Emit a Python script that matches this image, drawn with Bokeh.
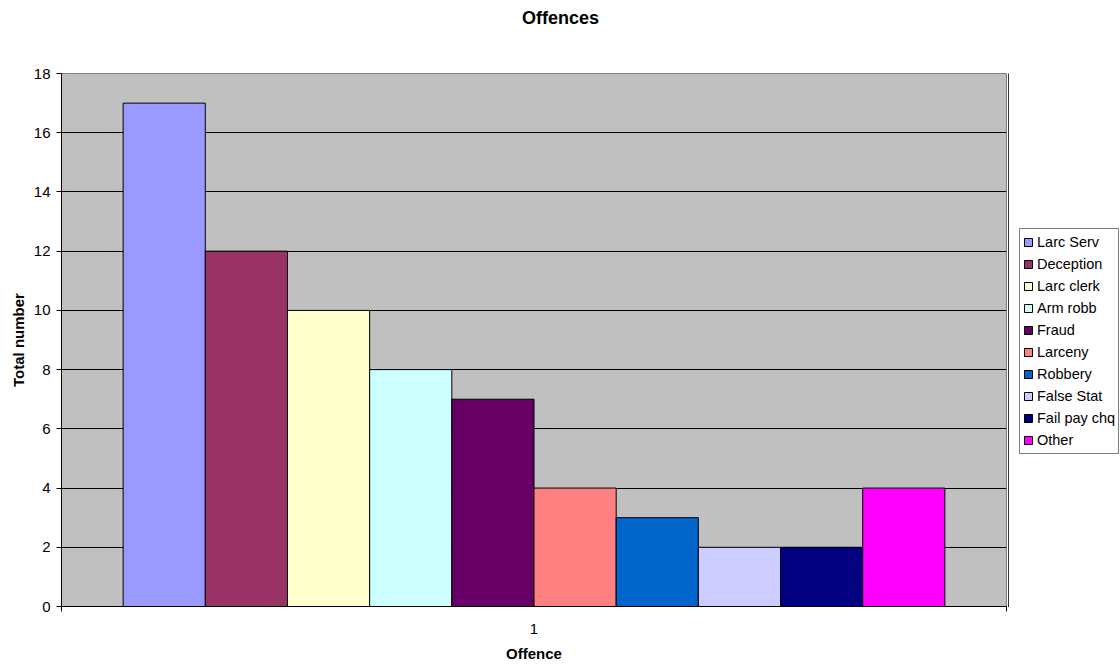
from bokeh.plotting import figure
from bokeh.layouts import row
from bokeh.models import (ColumnDataSource, FixedTicker, Legend, LegendItem,
                          Range1d, LinearAxis)
from bokeh.embed import file_html
from bokeh.resources import INLINE

# ---- data ----
offences = ["Larc Serv", "Deception", "Larc clerk", "Arm robb", "Fraud",
            "Larceny", "Robbery", "False Stat", "Fail pay chq", "Other"]
counts = [17, 12, 10, 8, 7, 4, 3, 2, 2, 4]
colors = ["#9999FF", "#993366", "#FFFFCC", "#CCFFFF", "#660066",
          "#FF8080", "#0066CC", "#CCCCFF", "#000080", "#FF00FF"]
category_label = "1"
chart_title = "Offences"
y_ticks = list(range(0, 19, 2))

# Excel-style clustered layout: gap width 150% of a bar
n = len(offences)
bar_w = 1.0 / (n + 1.5)
xs = [0.5 + (i - (n - 1) / 2) * bar_w for i in range(n)]

src = ColumnDataSource(dict(x=xs, top=counts, color=colors, name=offences))

FONT = "Liberation Sans"
MAIN_W = 1008
LEFT = 61
FRAME_W = MAIN_W - LEFT - 2

p = figure(width=MAIN_W, height=664, output_backend="svg",
           toolbar_location=None,
           x_range=Range1d(0, 1), y_range=Range1d(0, 18),
           min_border_left=LEFT, min_border_right=2, min_border_top=73,
           min_border_bottom=56)
p.background_fill_color = "#C0C0C0"
p.border_fill_color = "white"
p.outline_line_color = "#808080"
p.outline_line_width = 1

r = p.vbar(x="x", top="top", width=bar_w, source=src, fill_color="color",
           line_color="black", line_width=1)

# axes
p.xaxis.ticker = FixedTicker(ticks=[0.5], minor_ticks=[0, 1])
p.xaxis.major_label_overrides = {0.5: category_label}
p.xaxis.major_tick_out = 0
p.xaxis.major_tick_in = 0
p.xaxis.minor_tick_out = 5
p.xaxis.minor_tick_in = 0
p.xaxis.minor_tick_line_color = "black"
p.xaxis.axis_label = "Offence"
p.xaxis.major_label_standoff = 12
p.xaxis.axis_label_standoff = 8

p.yaxis.ticker = FixedTicker(ticks=y_ticks)
p.yaxis.minor_tick_line_color = None
p.yaxis.major_tick_out = 5
p.yaxis.major_tick_in = 0
p.yaxis.axis_label = "Total number"
p.yaxis.major_label_standoff = 6
p.yaxis.axis_label_standoff = 4

for ax in (p.xaxis[0], p.yaxis[0]):
    ax.axis_line_color = "black"
    ax.major_tick_line_color = "black"
    ax.major_label_text_font = FONT
    ax.major_label_text_font_size = "15px"
    ax.major_label_text_color = "black"
    ax.axis_label_text_font = FONT
    ax.axis_label_text_font_size = "15px"
    ax.axis_label_text_font_style = "bold"
    ax.axis_label_text_color = "black"

p.xgrid.grid_line_color = None
p.ygrid.grid_line_color = "black"
p.ygrid.grid_line_width = 1

# chart title: centred over the whole picture (x=560px), drawn by an
# otherwise invisible axis above the frame
title_x = (560 - LEFT) / FRAME_W
top_axis = LinearAxis(ticker=FixedTicker(ticks=[title_x], minor_ticks=[]),
                      major_label_overrides={title_x: chart_title},
                      axis_line_color=None, major_tick_line_color=None,
                      minor_tick_line_color=None, major_tick_out=0,
                      major_tick_in=0, major_label_standoff=46,
                      major_label_text_font=FONT,
                      major_label_text_font_size="18px",
                      major_label_text_font_style="bold",
                      major_label_text_color="black")
p.add_layout(top_axis, "above")

# legend panel: a small companion figure to the right of the chart
lp = figure(width=1120 - MAIN_W, height=664, output_backend="svg",
            toolbar_location=None, x_axis_type=None, y_axis_type=None,
            x_range=Range1d(10, 11), y_range=Range1d(10, 11),
            min_border=0, outline_line_color=None)
lp.grid.visible = False
lp.border_fill_color = "white"
lp.background_fill_color = "white"
lr = lp.vbar(x="x", top="top", width=bar_w, source=src, fill_color="color",
             line_color="black", line_width=1)

items = [LegendItem(label=name, renderers=[lr], index=i)
         for i, name in enumerate(offences)]
leg = Legend(items=items, location=(11, 152), margin=0, padding=3,
             spacing=2, label_height=20, glyph_width=10, glyph_height=10,
             label_standoff=4, label_text_font=FONT,
             label_text_font_size="14.5px", label_text_color="black",
             border_line_color="black", border_line_width=1,
             background_fill_color="white", background_fill_alpha=1)
lp.add_layout(leg)

layout = row(p, lp, spacing=0)
open("out.html", "w").write(file_html(layout, INLINE))
